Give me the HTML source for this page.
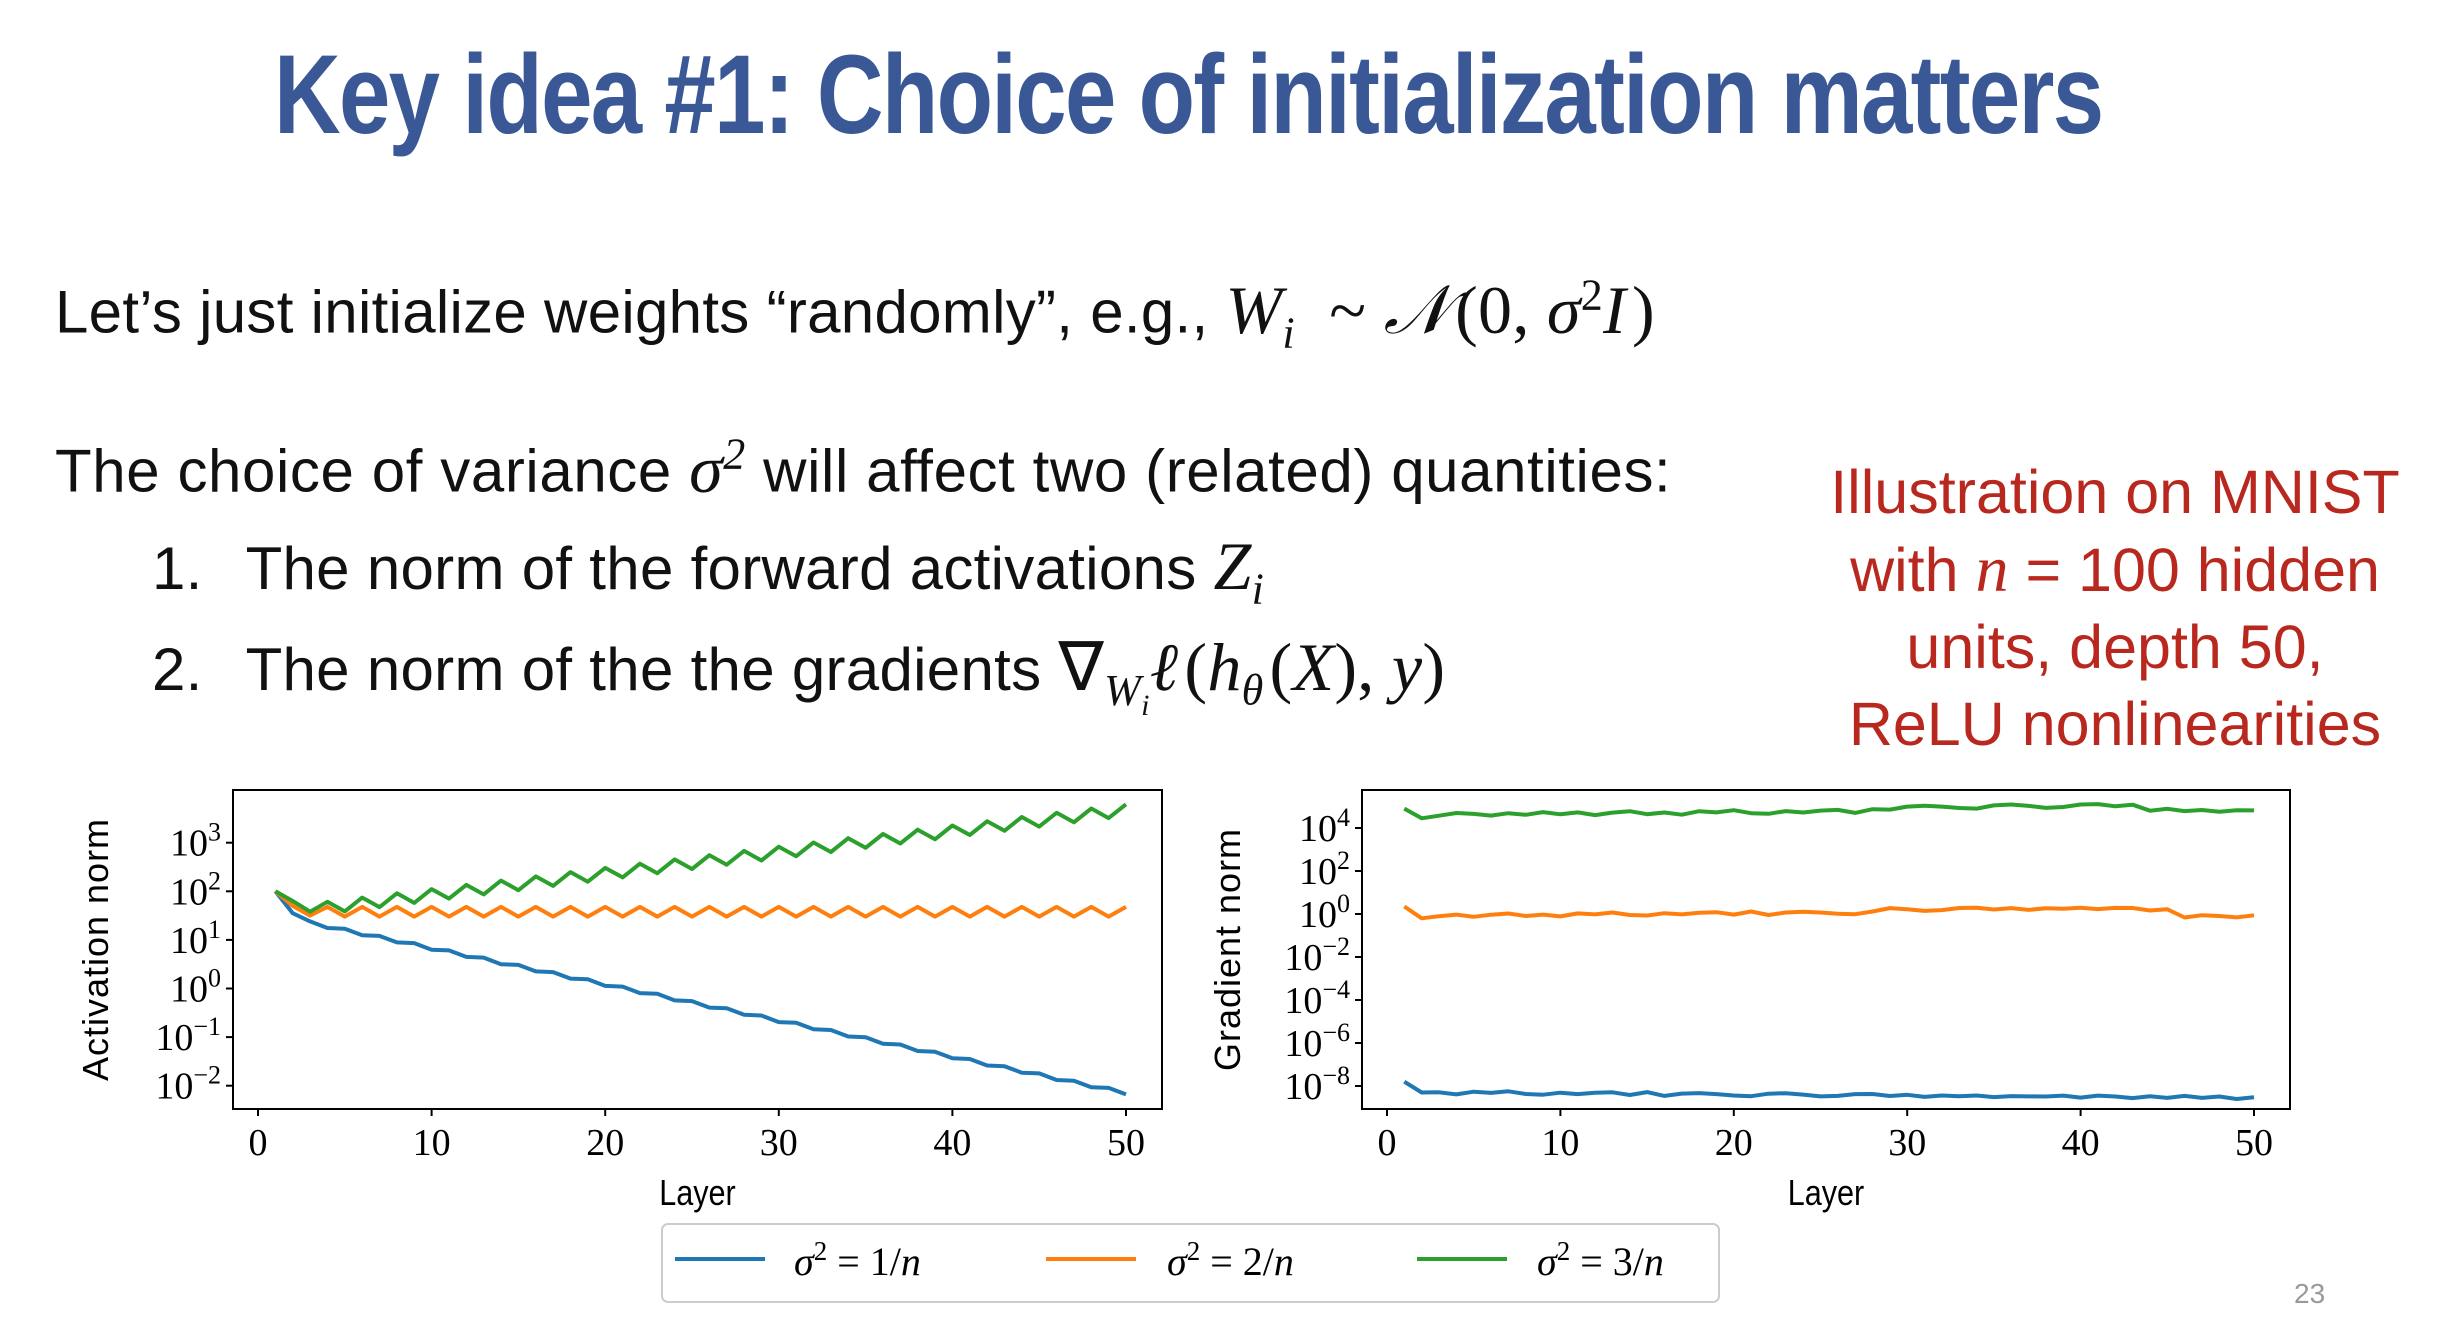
<!DOCTYPE html>
<html><head><meta charset="utf-8"><style>
html,body{margin:0;padding:0;background:#fff;}
body{width:2444px;height:1332px;position:relative;overflow:hidden;font-family:"Liberation Sans",sans-serif;}
.t{position:absolute;white-space:nowrap;}
.m{font-family:"Liberation Serif",serif;font-style:italic;}
</style></head><body>
<div class="t" style="left:274px;top:30px;font-family:'Liberation Sans',sans-serif;font-weight:bold;font-size:112px;color:#3a5896;letter-spacing:-2px;transform:scaleX(0.824);transform-origin:left top;">Key idea #1: Choice of initialization matters</div>
<div class="t" style="left:55px;top:269px;font-size:60px;letter-spacing:0.3px;color:#111;">Let’s just initialize weights “randomly”, e.g., <span class="m" style="font-size:68px">W<sub style="font-size:44px">i</sub></span> <span style="font-family:'Liberation Serif',serif;font-size:68px">&nbsp;~&nbsp;<i>𝒩</i>&#8202;(0,&nbsp;<i>σ</i><sup style="font-size:44px">2</sup><i>I</i>&#8202;)</span></div>
<div class="t" style="left:55px;top:428px;font-size:60px;letter-spacing:0.6px;color:#111;">The choice of variance <span class="m" style="font-size:68px">σ<sup style="font-size:44px">2</sup></span> will affect two (related) quantities:</div>
<div class="t" style="left:152px;top:527px;font-size:60px;letter-spacing:0.3px;color:#111;">1.&nbsp;&nbsp;&nbsp;<span style="margin-left:-8px">The norm of the forward activations</span> <span class="m" style="font-size:68px">Z<sub style="font-size:44px">i</sub></span></div>
<div class="t" style="left:152px;top:628px;font-size:60px;letter-spacing:0.3px;color:#111;">2.&nbsp;&nbsp;&nbsp;<span style="margin-left:-8px">The norm of the the gradients</span> <span style="font-family:'Liberation Serif',serif;font-size:68px">∇<i><sub style="font-size:44px">W<sub style="font-size:30px">i</sub></sub></i><i>ℓ</i>&#8202;(<i>h<sub style="font-size:44px">θ</sub></i>&#8202;(<i>X</i>),&nbsp;<i>y</i>)</span></div>
<div class="t" style="left:1800px;top:454px;width:630px;text-align:center;font-size:61px;line-height:77px;color:#b8281e;white-space:normal;">Illustration on MNIST<br>with <span class="m" style="font-size:66px">n</span> = 100 hidden<br>units, depth 50,<br>ReLU nonlinearities</div>
<svg id="s" width="2444" height="1332" style="position:absolute;left:0;top:0" xmlns="http://www.w3.org/2000/svg" font-family="Liberation Serif, serif"></svg>
<div class="t" style="left:2294px;top:1278px;font-size:28px;color:#999;">23</div>
<script>
var s=document.getElementById('s'),h='';
function ax(L,R,T,B,x0,x50,ticks,lab){
 h+='<rect x="'+L+'" y="'+T+'" width="'+(R-L)+'" height="'+(B-T)+'" fill="none" stroke="#000" stroke-width="2"/>';
 for(var k=0;k<=5;k++){var x=x0+(x50-x0)*k/5;h+='<line x1="'+x+'" y1="'+B+'" x2="'+x+'" y2="'+(B+7)+'" stroke="#000" stroke-width="2"/><text x="'+x+'" y="'+(B+46)+'" font-size="38" text-anchor="middle">'+(k*10)+'</text>';}
 ticks.forEach(function(t){h+='<line x1="'+(L-7)+'" y1="'+t[0]+'" x2="'+L+'" y2="'+t[0]+'" stroke="#000" stroke-width="2"/><text x="'+(L-12)+'" y="'+(t[0]+13)+'" font-size="38" text-anchor="end">10<tspan dy="-15" font-size="26">'+t[1]+'</tspan></text>';});
 h+='<text x="'+((L+R)/2)+'" y="'+(B+96)+'" font-size="36" text-anchor="middle" font-family="Liberation Sans, sans-serif" transform="translate('+((L+R)/2)*0.15+',0) scale(0.85,1)">Layer</text>';
 h+='<text transform="translate('+lab[0]+','+((T+B)/2)+') rotate(-90)" font-size="36" text-anchor="middle" font-family="Liberation Sans, sans-serif" letter-spacing="1">'+lab[1]+'</text>';
}
function line(f,x0,x50,y,c){var p='';for(var i=1;i<=50;i++){var x=x0+(x50-x0)*i/50;p+=(i>1?'L':'M')+x.toFixed(1)+','+y(f(i)).toFixed(1);}h+='<path d="'+p+'" fill="none" stroke="'+c+'" stroke-width="4" stroke-linejoin="round"/>';}
var yl=function(v){return 842.7+(3-v)*48.6;};
ax(233,1162,790,1109,258,1126,[[842.7,'3'],[891.3,'2'],[939.9,'1'],[988.5,'0'],[1037.1,'&#8722;1'],[1085.7,'&#8722;2']],[108,'Activation norm']);
line(function(i){if(i==1)return 2;if(i==2)return 1.55;return 1.35-3.5*(i-3)/47+(i%2?0.03:-0.03);},258,1126,yl,'#1f77b4');
line(function(i){if(i==1)return 2;if(i==2)return 1.7;if(i==3)return 1.5;return 1.58+(i%2?-0.1:0.1);},258,1126,yl,'#ff7f0e');
line(function(i){if(i==1)return 2;if(i==2)return 1.8;if(i==3)return 1.58;return 1.62+2.05*(i-3)/47+(i%2?-0.12:0.12);},258,1126,yl,'#2ca02c');
var yr=function(v){return 828+(4-v)*21.5;};
ax(1362,2290,790,1109,1387,2254,[[828,'4'],[871,'2'],[914,'0'],[957,'&#8722;2'],[1000,'&#8722;4'],[1043,'&#8722;6'],[1086,'&#8722;8']],[1240,'Gradient norm']);
var n=[0,0,0.05,-0.04,0.06,0.02,-0.05,0.04,-0.03,0.07,-0.02,0.05,-0.06,0.03,0.08,-0.04,0.02,-0.07,0.06,0.01,0.09,-0.03,-0.06,0.04,-0.02,0.05,0.07,-0.05,0.09,-0.08,0.03,0.06,0.02,-0.04,-0.07,0.05,0.08,0.02,-0.06,-0.03,0.06,0.07,-0.02,0.04,-0.05,0.02,-0.01,0.03,-0.04,0.01,0];
line(function(i){if(i==1)return 4.9;if(i==2)return 4.45;return 4.6+0.006*i+(i>28&&i<44?0.18:0)-(i>45?0.08:0)+n[i]*1.2;},1387,2254,yr,'#2ca02c');
line(function(i){if(i==1)return 0.35;if(i==2)return -0.2;return -0.1+0.006*i+(i>28&&i<44?0.12:0)-(i>45?0.3:0)+n[(i+7)%50];},1387,2254,yr,'#ff7f0e');
line(function(i){if(i==1)return -7.8;if(i==2)return -8.3;return -8.3-0.25*(i/50)+n[(i+13)%50];},1387,2254,yr,'#1f77b4');
h+='<rect x="662" y="1224" width="1057" height="78" rx="6" fill="#fff" stroke="#ccc" stroke-width="2"/>';
[['#1f77b4',675,794,'1'],['#ff7f0e',1046,1167,'2'],['#2ca02c',1417,1537,'3']].forEach(function(e){
 h+='<line x1="'+e[1]+'" y1="1259" x2="'+(e[1]+90)+'" y2="1259" stroke="'+e[0]+'" stroke-width="4"/>';
 h+='<text x="'+e[2]+'" y="1275" font-size="40"><tspan font-style="italic">σ</tspan><tspan dy="-15" font-size="27">2</tspan><tspan dy="15"> = '+e[3]+'/</tspan><tspan font-style="italic">n</tspan></text>';});
s.innerHTML=h;
</script>
</body></html>
